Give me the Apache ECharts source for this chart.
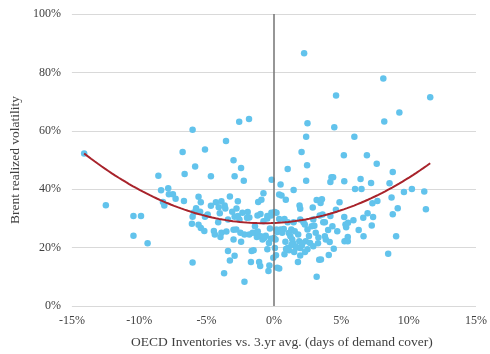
<!DOCTYPE html>
<html><head><meta charset="utf-8">
<script src="https://cdn.jsdelivr.net/npm/echarts@6/dist/echarts.min.js"></script>
<style>html,body{margin:0;padding:0;background:#fff}#c{width:490px;height:354px}</style>
</head><body><div id="c"></div>
<script>
// Inventory deviation (% of 3yr avg, days of demand cover) vs Brent realized volatility (%)
const points = [
[-14.09,52.2],[-12.48,34.5],[-10.43,30.8],[-9.87,30.8],[-10.43,24.1],[-9.38,21.5],[-8.58,44.6],[-8.38,39.6],
[-7.85,40.3],[-8.24,35.6],[-8.14,34.4],[-7.8,38.3],[-7.5,38.3],[-7.3,36.7],[-6.78,52.7],[-6.63,45.2],
[-6.68,36.0],[-6.04,60.4],[-5.85,47.8],[-6.04,30.6],[-6.09,28.2],[-6.04,14.9],[-5.6,37.4],[-5.43,35.5],
[-5.78,33.5],[-5.48,32.3],[-5.6,27.8],[-5.43,26.7],[-5.17,25.7],[-5.12,53.6],[-5.12,30.6],[-4.92,31.3],
[-4.68,44.4],[-4.68,34.3],[-4.31,35.5],[-4.46,25.7],[-4.39,24.5],[-3.9,35.9],[-4.02,31.8],[-4.14,28.7],
[-3.9,25.1],[-3.97,23.6],[-3.7,11.2],[-3.56,56.5],[-3.66,34.4],[-3.61,33.4],[-3.41,29.6],[-3.53,25.5],
[-3.41,18.8],[-3.27,37.5],[-3.27,15.6],[-3.0,49.9],[-2.92,44.4],[-3.1,32.3],[-2.92,30.6],[-3.0,26.1],
[-3.0,22.8],[-2.92,17.2],[-2.58,63.1],[-2.44,47.3],[-2.68,35.9],[-2.78,33.4],[-2.68,30.8],[-2.56,29.6],
[-2.49,25.1],[-2.44,22.0],[-2.24,42.9],[-2.34,31.9],[-2.19,8.3],[-1.85,64.0],[-1.95,32.2],[-1.83,30.3],
[-1.83,24.5],[-1.66,18.8],[-1.71,15.1],[-1.51,19.1],[-1.41,27.3],[-1.34,25.1],[-1.27,23.6],[-1.22,31.0],
[-1.17,35.6],[-0.93,36.4],[-1.1,15.1],[-1.02,13.7],[-0.97,23.9],[-0.85,22.8],[-0.78,38.6],[-0.78,29.0],
[-0.61,24.1],[-0.49,30.8],[-0.49,30.0],[-0.49,19.4],[-0.37,21.6],[-0.41,12.0],[-0.34,13.9],[-0.17,43.2],
[-0.19,31.9],[-0.24,23.0],[-0.05,16.5],[0.07,19.9],[0.12,22.8],[0.19,31.9],[0.19,26.2],[0.24,25.3],
[0.39,29.8],[0.39,38.2],[0.49,41.6],[0.56,37.8],[0.24,13.1],[0.39,12.8],[0.15,17.4],[0.49,26.2],
[0.73,26.4],[0.78,29.8],[0.88,36.4],[0.85,22.0],[0.78,17.7],[1.02,46.9],[1.02,28.7],[1.02,19.9],
[1.12,19.1],[1.22,23.9],[1.29,26.2],[1.36,22.8],[1.41,21.6],[1.46,39.7],[1.46,28.7],[1.54,25.6],
[1.58,20.5],[1.78,15.1],[1.88,22.2],[1.9,34.4],[1.95,33.3],[1.95,29.6],[1.95,19.9],[1.95,17.3],
[2.07,20.7],[2.05,52.7],[2.24,86.6],[2.19,28.7],[2.29,27.9],[2.39,42.9],[2.39,58.0],[2.46,48.2],
[2.49,62.6],[2.36,22.2],[2.49,26.2],[2.49,19.4],[2.68,21.6],[2.8,27.3],[2.88,33.7],[2.92,29.6],
[2.92,20.5],[3.1,25.1],[3.17,10.0],[3.17,36.3],[3.27,21.5],[3.36,15.8],[3.46,35.3],[3.56,36.6],
[3.49,15.9],[3.61,31.3],[3.66,28.7],[3.78,28.7],[3.78,23.9],[3.85,22.8],[4.02,26.0],[4.07,17.5],
[4.14,21.9],[4.19,42.5],[4.27,44.1],[4.39,44.1],[4.19,30.8],[4.34,27.3],[4.44,19.6],[4.48,61.2],
[4.61,72.1],[4.7,25.6],[4.87,35.5],[5.19,51.6],[5.22,42.7],[5.22,30.5],[5.31,27.9],[5.36,27.0],
[5.24,22.2],[5.48,23.6],[5.48,22.2],[5.9,29.4],[5.97,58.0],[6.02,40.1],[6.29,26.0],[6.43,43.5],
[6.5,40.1],[6.63,30.2],[6.65,23.9],[6.9,51.6],[6.95,31.8],[7.21,42.1],[7.26,27.6],[7.36,30.5],
[7.31,35.2],[7.63,48.7],[7.68,36.0],[8.12,77.9],[8.19,63.2],[8.48,17.9],[8.58,42.0],[8.73,37.2],
[8.82,45.9],[8.82,31.4],[9.07,23.9],[9.19,33.5],[9.31,66.3],[9.65,39.0],[10.24,40.1],[11.16,39.2],
[11.28,33.1],[11.6,71.5],
[-2.8,26.2],[-2.19,24.5],[-1.58,25.1],[-0.73,23.3],[0.0,23.3],[0.61,25.1],[-0.2,31.0],[0.05,32.2],
[-5.95,32.0],[-4.1,33.8],[-2.0,30.2],[-1.0,31.5],[1.3,21.0],[1.5,18.5],[1.8,24.5],[2.1,21.5],
[2.6,24.0],[3.0,27.5],[3.4,31.0],[4.6,33.0],[5.5,28.5],[1.1,25.0],[0.9,19.5],[1.7,20.0],
[2.3,18.5],[3.3,23.5],[-1.2,25.5],[-0.3,26.5]
];
const xTicks = [-15,-10,-5,0,5,10,15];
const yTicks = [0,20,40,60,80,100];
const xName = 'OECD Inventories vs. 3.yr avg. (days of demand cover)';
const yName = 'Brent realized volatility';

// 2nd-order polynomial least squares trendline (as in spreadsheet trendline)
function polyFit2(pts){
  let n=pts.length,sx=0,sx2=0,sx3=0,sx4=0,sy=0,sxy=0,sx2y=0;
  pts.forEach(([x,y])=>{const x2=x*x;sx+=x;sx2+=x2;sx3+=x2*x;sx4+=x2*x2;sy+=y;sxy+=x*y;sx2y+=x2*y;});
  const M=[[n,sx,sx2,sy],[sx,sx2,sx3,sxy],[sx2,sx3,sx4,sx2y]];
  for(let i=0;i<3;i++){let p=i;for(let r=i+1;r<3;r++)if(Math.abs(M[r][i])>Math.abs(M[p][i]))p=r;[M[i],M[p]]=[M[p],M[i]];
    for(let r=0;r<3;r++){if(r===i)continue;const f=M[r][i]/M[i][i];for(let c=i;c<4;c++)M[r][c]-=f*M[i][c];}}
  return [M[0][3]/M[0][0],M[1][3]/M[1][1],M[2][3]/M[2][2]];
}
const coef = polyFit2(points);
const xs = points.map(p=>p[0]);
const xMin = Math.min(...xs), xMax = Math.max(...xs);
const trend = [];
for(let i=0;i<=100;i++){const x=xMin+(xMax-xMin)*i/100;trend.push([x,coef[0]+coef[1]*x+coef[2]*x*x]);}

const font = 'Liberation Serif';
const chart = echarts.init(document.getElementById('c'));
chart.setOption({
  animation:false,
  grid:{left:68,right:11,top:14,bottom:47},
  xAxis:{type:'value',min:xTicks[0],max:xTicks[xTicks.length-1],interval:5,
    axisLine:{show:false},axisTick:{show:false},splitLine:{show:false},
    axisLabel:{formatter:v=>v+'%',color:'#404040',fontFamily:font,fontSize:12,margin:9},
    name:xName,nameLocation:'middle',nameGap:29,
    nameTextStyle:{color:'#404040',fontFamily:font,fontSize:13.5,padding:[0,0,0,16]}},
  yAxis:{type:'value',min:yTicks[0],max:yTicks[yTicks.length-1],interval:20,
    axisLine:{show:false},axisTick:{show:false},
    splitLine:{lineStyle:{color:'#d9d9d9',width:1}},
    axisLabel:{formatter:v=>v+'%',color:'#404040',fontFamily:font,fontSize:12,margin:11},
    name:yName,nameLocation:'middle',nameGap:44,
    nameTextStyle:{color:'#404040',fontFamily:font,fontSize:13.5}},
  series:[
    {type:'scatter',data:points,symbolSize:6.5,itemStyle:{color:'#62c3ec',opacity:1},
     markLine:{silent:true,symbol:'none',label:{show:false},
       lineStyle:{color:'#737373',width:1.5,type:'solid'},data:[{xAxis:0}]}},
    {type:'line',data:trend,showSymbol:false,smooth:false,
     lineStyle:{color:'#a8232b',width:2}}
  ]
});
</script></body></html>
